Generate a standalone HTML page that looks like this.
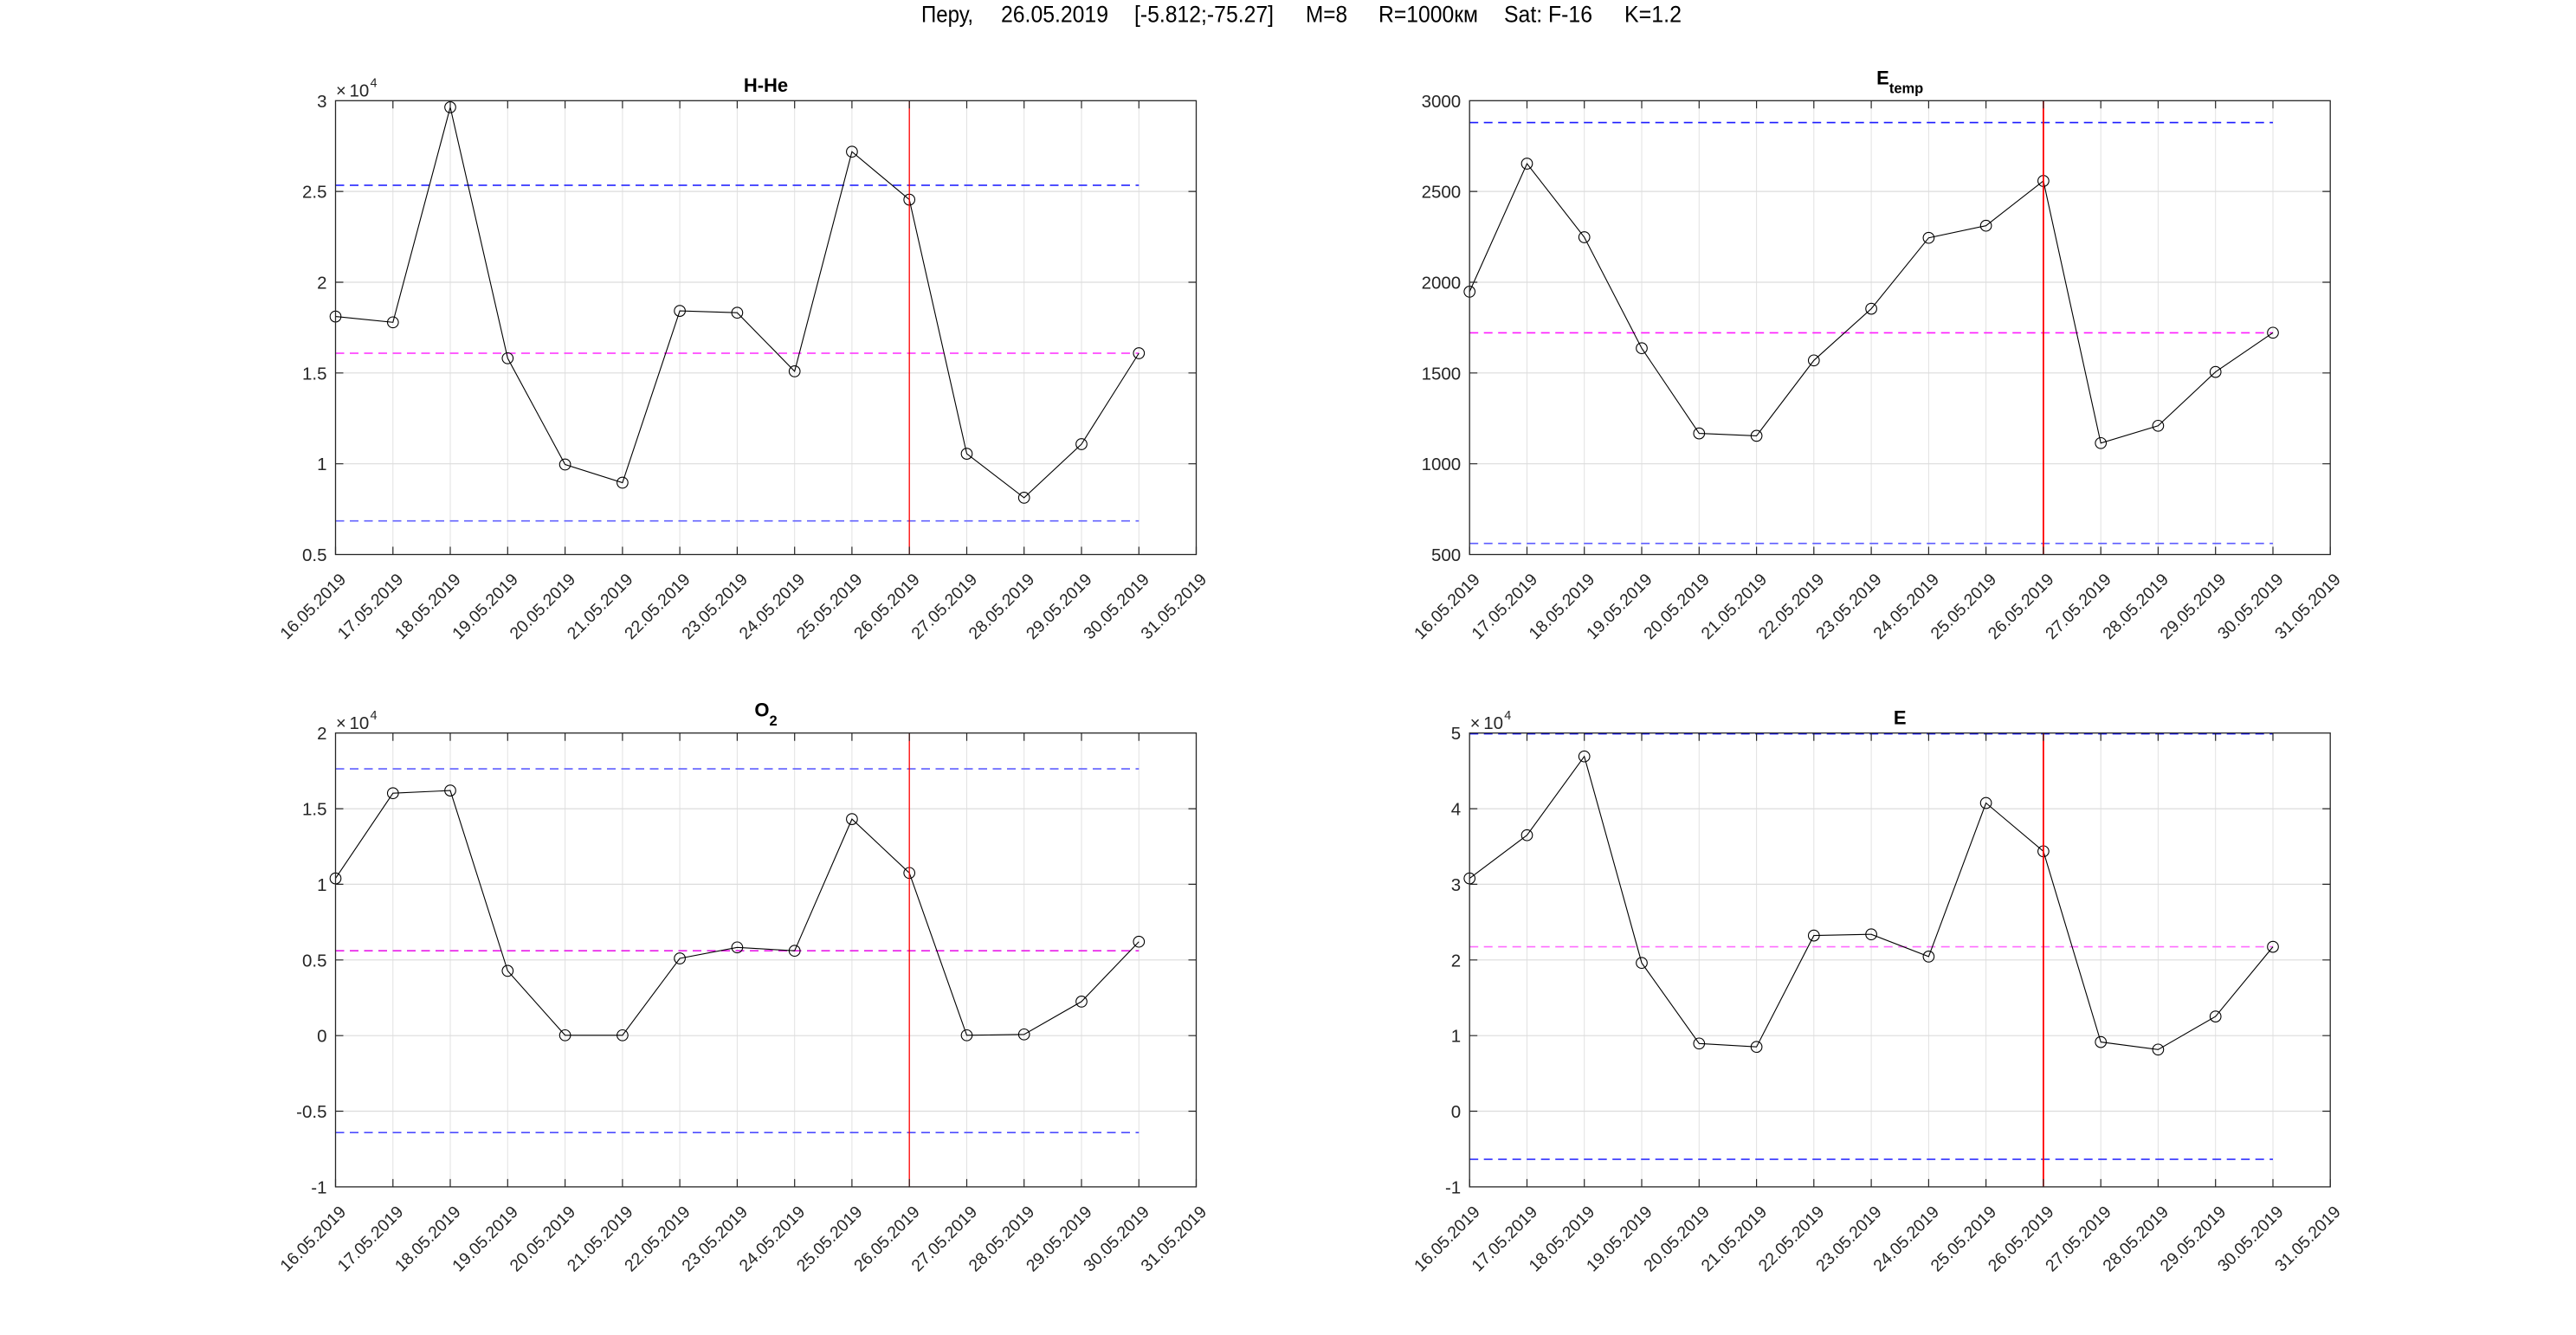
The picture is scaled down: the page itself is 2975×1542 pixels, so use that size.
<!DOCTYPE html>
<html><head><meta charset="utf-8"><style>html,body{margin:0;padding:0;background:#fff;}svg{display:block;}</style></head>
<body>
<svg width="2975" height="1542" viewBox="0 0 2975 1542" xmlns="http://www.w3.org/2000/svg" font-family="'Liberation Sans', Arial, sans-serif">
<defs>
<marker id="o" viewBox="-8 -8 16 16" refX="0" refY="0" markerWidth="16" markerHeight="16" markerUnits="userSpaceOnUse"><circle r="6.3" fill="none" stroke="#000" stroke-width="1.1"/></marker>
<path id="xg" d="M453.8 0V524.2M520 0V524.2M586.3 0V524.2M652.6 0V524.2M718.9 0V524.2M785.1 0V524.2M851.4 0V524.2M917.7 0V524.2M983.9 0V524.2M1050.2 0V524.2M1116.5 0V524.2M1182.7 0V524.2M1249 0V524.2M1315.3 0V524.2" stroke="#e2e2e2" stroke-width="1" fill="none"/>
<path id="xt" d="M387.5 524.2v-9M453.8 524.2v-9M520 524.2v-9M586.3 524.2v-9M652.6 524.2v-9M718.9 524.2v-9M785.1 524.2v-9M851.4 524.2v-9M917.7 524.2v-9M983.9 524.2v-9M1050.2 524.2v-9M1116.5 524.2v-9M1182.7 524.2v-9M1249 524.2v-9M1315.3 524.2v-9M1381.5 524.2v-9M453.8 0v9M520 0v9M586.3 0v9M652.6 0v9M718.9 0v9M785.1 0v9M851.4 0v9M917.7 0v9M983.9 0v9M1050.2 0v9M1116.5 0v9M1182.7 0v9M1249 0v9M1315.3 0v9" stroke="#262626" stroke-width="1.2" fill="none"/>
<path id="hT" d="M387.5 104.8H1381.5M387.5 209.7H1381.5M387.5 314.5H1381.5M387.5 419.4H1381.5" stroke="#dcdcdc" stroke-width="1.2" fill="none"/>
<path id="tT" d="M387.5 104.8h9M387.5 209.7h9M387.5 314.5h9M387.5 419.4h9M1381.5 104.8h-9M1381.5 209.7h-9M1381.5 314.5h-9M1381.5 419.4h-9" stroke="#262626" stroke-width="1.2" fill="none"/>
<path id="hB" d="M387.5 87.4H1381.5M387.5 174.7H1381.5M387.5 262.1H1381.5M387.5 349.5H1381.5M387.5 436.8H1381.5" stroke="#dcdcdc" stroke-width="1.2" fill="none"/>
<path id="tB" d="M387.5 87.4h9M387.5 174.7h9M387.5 262.1h9M387.5 349.5h9M387.5 436.8h9M1381.5 87.4h-9M1381.5 174.7h-9M1381.5 262.1h-9M1381.5 349.5h-9M1381.5 436.8h-9" stroke="#262626" stroke-width="1.2" fill="none"/>
<rect id="fr" x="387.5" y="0" width="994" height="524.2" fill="none" stroke="#262626" stroke-width="1.3"/>
</defs>
<rect width="2975" height="1542" fill="#fff"/>

<!-- Super title -->
<g font-size="27" fill="#000">
<text x="1064" y="25.7" textLength="60" lengthAdjust="spacingAndGlyphs">Перу,</text>
<text x="1156" y="25.7" textLength="124" lengthAdjust="spacingAndGlyphs">26.05.2019</text>
<text x="1310" y="25.7" textLength="161" lengthAdjust="spacingAndGlyphs">[-5.812;-75.27]</text>
<text x="1508" y="25.7" textLength="48" lengthAdjust="spacingAndGlyphs">M=8</text>
<text x="1592" y="25.7" textLength="115" lengthAdjust="spacingAndGlyphs">R=1000км</text>
<text x="1737" y="25.7" textLength="102" lengthAdjust="spacingAndGlyphs">Sat: F-16</text>
<text x="1876" y="25.7" textLength="66" lengthAdjust="spacingAndGlyphs">K=1.2</text>
</g>

<!-- ============ Plot A: H-He ============ -->
<g transform="translate(0,116.3)">
<use href="#xg"/><use href="#hT"/>
</g>
<g fill="none" stroke-width="1.6" stroke-dasharray="10 6.5">
<path d="M387.5 214H1315.3" stroke="#1414ff"/>
<path d="M387.5 408H1315.3" stroke="#ff2aff"/>
<path d="M387.5 601.7H1315.3" stroke="#6262ff"/>
</g>
<polyline fill="none" stroke="#000" stroke-width="1.1" marker-start="url(#o)" marker-mid="url(#o)" marker-end="url(#o)" points="387.5,365.6 453.8,372.3 520,123.9 586.3,413.8 652.6,536.5 718.9,557.5 785.1,359.1 851.4,361.2 917.7,428.9 983.9,175.2 1050.2,230.6 1116.5,524.1 1182.7,574.9 1249,513 1315.3,408"/>
<path d="M1050.2 116.3V640.5" stroke="#ff0000" stroke-width="1.3"/>
<g transform="translate(0,116.3)">
<use href="#xt"/><use href="#tT"/><use href="#fr"/>
<g font-size="20.5" fill="#262626" text-anchor="end">
<text x="377.5" y="7.5">3</text>
<text x="377.5" y="112.3">2.5</text>
<text x="377.5" y="217.2">2</text>
<text x="377.5" y="322">1.5</text>
<text x="377.5" y="426.9">1</text>
<text x="377.5" y="531.7">0.5</text>
</g>
<g fill="#262626">
<text x="388" y="-4.6" font-size="20">×</text>
<text x="403.5" y="-4.6" font-size="20.5">10</text>
<text x="427.5" y="-15.6" font-size="14.5">4</text>
</g>
<text x="884.5" y="-10.3" font-size="22" font-weight="bold" text-anchor="middle" fill="#000">H-He</text>
<g font-size="19.5" fill="#262626" text-anchor="end">
<text transform="translate(400.5,554.2) rotate(-45)">16.05.2019</text>
<text transform="translate(466.8,554.2) rotate(-45)">17.05.2019</text>
<text transform="translate(533,554.2) rotate(-45)">18.05.2019</text>
<text transform="translate(599.3,554.2) rotate(-45)">19.05.2019</text>
<text transform="translate(665.6,554.2) rotate(-45)">20.05.2019</text>
<text transform="translate(731.9,554.2) rotate(-45)">21.05.2019</text>
<text transform="translate(798.1,554.2) rotate(-45)">22.05.2019</text>
<text transform="translate(864.4,554.2) rotate(-45)">23.05.2019</text>
<text transform="translate(930.7,554.2) rotate(-45)">24.05.2019</text>
<text transform="translate(996.9,554.2) rotate(-45)">25.05.2019</text>
<text transform="translate(1063.2,554.2) rotate(-45)">26.05.2019</text>
<text transform="translate(1129.5,554.2) rotate(-45)">27.05.2019</text>
<text transform="translate(1195.7,554.2) rotate(-45)">28.05.2019</text>
<text transform="translate(1262,554.2) rotate(-45)">29.05.2019</text>
<text transform="translate(1328.3,554.2) rotate(-45)">30.05.2019</text>
<text transform="translate(1394.5,554.2) rotate(-45)">31.05.2019</text>
</g>
</g>

<!-- ============ Plot B: E_temp ============ -->
<g transform="translate(1309.7,116.3)">
<use href="#xg"/><use href="#hT"/>
</g>
<g fill="none" stroke-width="1.6" stroke-dasharray="10 6.5">
<path d="M1697.2 141.6H2625" stroke="#1a1aff"/>
<path d="M1697.2 384.4H2625" stroke="#ff1aff"/>
<path d="M1697.2 627.7H2625" stroke="#5c5cff"/>
</g>
<polyline fill="none" stroke="#000" stroke-width="1.1" marker-start="url(#o)" marker-mid="url(#o)" marker-end="url(#o)" points="1697.2,336.9 1763.5,189 1829.7,274 1896,402.2 1962.3,500.6 2028.6,503.4 2094.8,416.3 2161.1,356.6 2227.4,274.7 2293.6,260.7 2359.9,209 2426.2,511.8 2492.4,491.8 2558.7,429.6 2625,384.3"/>
<path d="M2359.9 116.3V640.5" stroke="#ff0000" stroke-width="1.8"/>
<g transform="translate(1309.7,116.3)">
<use href="#xt"/><use href="#tT"/><use href="#fr"/>
<g font-size="20.5" fill="#262626" text-anchor="end">
<text x="377.5" y="7.5">3000</text>
<text x="377.5" y="112.3">2500</text>
<text x="377.5" y="217.2">2000</text>
<text x="377.5" y="322">1500</text>
<text x="377.5" y="426.9">1000</text>
<text x="377.5" y="531.7">500</text>
</g>
<text x="884.5" y="-19" font-size="22" font-weight="bold" text-anchor="middle" fill="#000">E<tspan font-size="16.5" dy="10.3">temp</tspan></text>
<g font-size="19.5" fill="#262626" text-anchor="end">
<text transform="translate(400.5,554.2) rotate(-45)">16.05.2019</text>
<text transform="translate(466.8,554.2) rotate(-45)">17.05.2019</text>
<text transform="translate(533,554.2) rotate(-45)">18.05.2019</text>
<text transform="translate(599.3,554.2) rotate(-45)">19.05.2019</text>
<text transform="translate(665.6,554.2) rotate(-45)">20.05.2019</text>
<text transform="translate(731.9,554.2) rotate(-45)">21.05.2019</text>
<text transform="translate(798.1,554.2) rotate(-45)">22.05.2019</text>
<text transform="translate(864.4,554.2) rotate(-45)">23.05.2019</text>
<text transform="translate(930.7,554.2) rotate(-45)">24.05.2019</text>
<text transform="translate(996.9,554.2) rotate(-45)">25.05.2019</text>
<text transform="translate(1063.2,554.2) rotate(-45)">26.05.2019</text>
<text transform="translate(1129.5,554.2) rotate(-45)">27.05.2019</text>
<text transform="translate(1195.7,554.2) rotate(-45)">28.05.2019</text>
<text transform="translate(1262,554.2) rotate(-45)">29.05.2019</text>
<text transform="translate(1328.3,554.2) rotate(-45)">30.05.2019</text>
<text transform="translate(1394.5,554.2) rotate(-45)">31.05.2019</text>
</g>
</g>

<!-- ============ Plot C: O2 ============ -->
<g transform="translate(0,846.7)">
<use href="#xg"/><use href="#hB"/>
</g>
<g fill="none" stroke-width="1.6" stroke-dasharray="10 6.5">
<path d="M387.5 888.1H1315.3" stroke="#5e5eff"/>
<path d="M387.5 1098.2H1315.3" stroke="#e81ae8"/>
<path d="M387.5 1308.2H1315.3" stroke="#4c4cff"/>
</g>
<polyline fill="none" stroke="#000" stroke-width="1.1" marker-start="url(#o)" marker-mid="url(#o)" marker-end="url(#o)" points="387.5,1014.6 453.8,916.2 520,913.1 586.3,1121.4 652.6,1195.8 718.9,1195.8 785.1,1107 851.4,1094.3 917.7,1098.2 983.9,946.1 1050.2,1008.3 1116.5,1195.8 1182.7,1194.8 1249,1156.9 1315.3,1087.7"/>
<path d="M1050.2 846.7V1370.9" stroke="#ff0000" stroke-width="1.3"/>
<g transform="translate(0,846.7)">
<use href="#xt"/><use href="#tB"/><use href="#fr"/>
<g font-size="20.5" fill="#262626" text-anchor="end">
<text x="377.5" y="7.5">2</text>
<text x="377.5" y="94.9">1.5</text>
<text x="377.5" y="182.2">1</text>
<text x="377.5" y="269.6">0.5</text>
<text x="377.5" y="357">0</text>
<text x="377.5" y="444.3">-0.5</text>
<text x="377.5" y="531.7">-1</text>
</g>
<g fill="#262626">
<text x="388" y="-4.6" font-size="20">×</text>
<text x="403.5" y="-4.6" font-size="20.5">10</text>
<text x="427.5" y="-15.6" font-size="14.5">4</text>
</g>
<text x="884.5" y="-19" font-size="22" font-weight="bold" text-anchor="middle" fill="#000">O<tspan font-size="16.5" dy="10.3">2</tspan></text>
<g font-size="19.5" fill="#262626" text-anchor="end">
<text transform="translate(400.5,554.2) rotate(-45)">16.05.2019</text>
<text transform="translate(466.8,554.2) rotate(-45)">17.05.2019</text>
<text transform="translate(533,554.2) rotate(-45)">18.05.2019</text>
<text transform="translate(599.3,554.2) rotate(-45)">19.05.2019</text>
<text transform="translate(665.6,554.2) rotate(-45)">20.05.2019</text>
<text transform="translate(731.9,554.2) rotate(-45)">21.05.2019</text>
<text transform="translate(798.1,554.2) rotate(-45)">22.05.2019</text>
<text transform="translate(864.4,554.2) rotate(-45)">23.05.2019</text>
<text transform="translate(930.7,554.2) rotate(-45)">24.05.2019</text>
<text transform="translate(996.9,554.2) rotate(-45)">25.05.2019</text>
<text transform="translate(1063.2,554.2) rotate(-45)">26.05.2019</text>
<text transform="translate(1129.5,554.2) rotate(-45)">27.05.2019</text>
<text transform="translate(1195.7,554.2) rotate(-45)">28.05.2019</text>
<text transform="translate(1262,554.2) rotate(-45)">29.05.2019</text>
<text transform="translate(1328.3,554.2) rotate(-45)">30.05.2019</text>
<text transform="translate(1394.5,554.2) rotate(-45)">31.05.2019</text>
</g>
</g>

<!-- ============ Plot D: E ============ -->
<g transform="translate(1309.7,846.7)">
<use href="#xg"/><use href="#hB"/>
</g>
<g fill="none" stroke-width="1.6" stroke-dasharray="10 6.5">
<path d="M1697.2 847.6H2625" stroke="#1010ff"/>
<path d="M1697.2 1093.6H2625" stroke="#ff6cff"/>
<path d="M1697.2 1339.1H2625" stroke="#3030ff"/>
</g>
<polyline fill="none" stroke="#000" stroke-width="1.1" marker-start="url(#o)" marker-mid="url(#o)" marker-end="url(#o)" points="1697.2,1014.6 1763.5,964.7 1829.7,873.7 1896,1112.2 1962.3,1205.3 2028.6,1209.2 2094.8,1080.6 2161.1,1079.2 2227.4,1104.9 2293.6,927.5 2359.9,983.3 2426.2,1203.6 2492.4,1212.3 2558.7,1174.1 2625,1093.6"/>
<path d="M2359.9 846.7V1370.9" stroke="#ff0000" stroke-width="1.8"/>
<g transform="translate(1309.7,846.7)">
<use href="#xt"/><use href="#tB"/><use href="#fr"/>
<g font-size="20.5" fill="#262626" text-anchor="end">
<text x="377.5" y="7.5">5</text>
<text x="377.5" y="94.9">4</text>
<text x="377.5" y="182.2">3</text>
<text x="377.5" y="269.6">2</text>
<text x="377.5" y="357">1</text>
<text x="377.5" y="444.3">0</text>
<text x="377.5" y="531.7">-1</text>
</g>
<g fill="#262626">
<text x="388" y="-4.6" font-size="20">×</text>
<text x="403.5" y="-4.6" font-size="20.5">10</text>
<text x="427.5" y="-15.6" font-size="14.5">4</text>
</g>
<text x="884.5" y="-10" font-size="22" font-weight="bold" text-anchor="middle" fill="#000">E</text>
<g font-size="19.5" fill="#262626" text-anchor="end">
<text transform="translate(400.5,554.2) rotate(-45)">16.05.2019</text>
<text transform="translate(466.8,554.2) rotate(-45)">17.05.2019</text>
<text transform="translate(533,554.2) rotate(-45)">18.05.2019</text>
<text transform="translate(599.3,554.2) rotate(-45)">19.05.2019</text>
<text transform="translate(665.6,554.2) rotate(-45)">20.05.2019</text>
<text transform="translate(731.9,554.2) rotate(-45)">21.05.2019</text>
<text transform="translate(798.1,554.2) rotate(-45)">22.05.2019</text>
<text transform="translate(864.4,554.2) rotate(-45)">23.05.2019</text>
<text transform="translate(930.7,554.2) rotate(-45)">24.05.2019</text>
<text transform="translate(996.9,554.2) rotate(-45)">25.05.2019</text>
<text transform="translate(1063.2,554.2) rotate(-45)">26.05.2019</text>
<text transform="translate(1129.5,554.2) rotate(-45)">27.05.2019</text>
<text transform="translate(1195.7,554.2) rotate(-45)">28.05.2019</text>
<text transform="translate(1262,554.2) rotate(-45)">29.05.2019</text>
<text transform="translate(1328.3,554.2) rotate(-45)">30.05.2019</text>
<text transform="translate(1394.5,554.2) rotate(-45)">31.05.2019</text>
</g>
</g>
</svg>
</body></html>
